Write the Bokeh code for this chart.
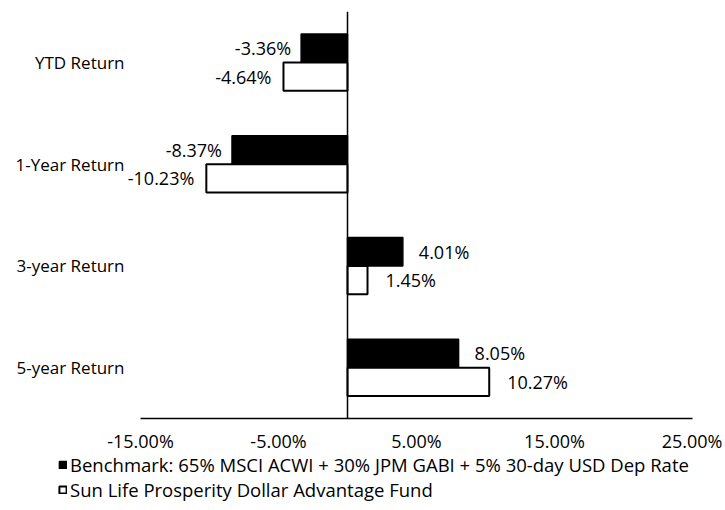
from bokeh.plotting import figure
from bokeh.layouts import column
from bokeh.models import ColumnDataSource, FactorRange, FixedTicker, Span, Legend, LegendItem, Range1d
from bokeh.transform import dodge
from bokeh.core.properties import value
from bokeh.embed import file_html
from bokeh.resources import INLINE

categories = ["YTD Return", "1-Year Return", "3-year Return", "5-year Return"]
benchmark = [-3.36, -8.37, 4.01, 8.05]
fund = [-4.64, -10.23, 1.45, 10.27]
tick_values = [-15, -5, 5, 15, 25]
tick_labels = ["-15.00%", "-5.00%", "5.00%", "15.00%", "25.00%"]
bench_name = "Benchmark: 65% MSCI ACWI + 30% JPM GABI + 5% 30-day USD Dep Rate"
fund_name = "Sun Life Prosperity Dollar Advantage Fund"

FONT = "Open Sans"
FS = "18px"
FS_CAT = "17px"
FS_LEG = "18.5px"
BENCH_STYLE = dict(fill_color="#000000", line_color="#000000", line_width=1.5)
FUND_STYLE = dict(fill_color="#ffffff", line_color="#000000", line_width=2)

# layout: axis from -15 at x=140 to 25 at x=692; frame starts a bit further left
AX_MIN, AX_MAX = -15, 25
FRAME_LEFT, AXIS_LEFT, FRAME_RIGHT = 110, 140, 692
PX_PER_UNIT = (FRAME_RIGHT - AXIS_LEFT) / (AX_MAX - AX_MIN)

def fmt(v):
    return f"{v:.2f}%"

src = ColumnDataSource(dict(
    cat=categories,
    bench=benchmark,
    fund=fund,
    bench_lbl=[fmt(v) for v in benchmark],
    fund_lbl=[fmt(v) for v in fund],
    bench_align=["right" if v < 0 else "left" for v in benchmark],
    fund_align=["right" if v < 0 else "left" for v in fund],
    bench_off=[-10 if v < 0 else 16 for v in benchmark],
    fund_off=[-12 if v < 0 else 18 for v in fund],
))

p = figure(width=722, height=455, output_backend="svg", toolbar_location=None,
           y_range=FactorRange(factors=list(reversed(categories))),
           x_range=Range1d(AX_MIN - (AXIS_LEFT - FRAME_LEFT) / PX_PER_UNIT, AX_MAX),
           min_border_left=FRAME_LEFT, min_border_right=722 - FRAME_RIGHT,
           min_border_top=11, min_border_bottom=35)

p.outline_line_color = None
p.xgrid.grid_line_color = None
p.ygrid.grid_line_color = None
p.background_fill_color = "white"

p.hbar(y=dodge("cat", 0.14, range=p.y_range), left=0, right="bench", height=0.28,
       source=src, **BENCH_STYLE)
p.hbar(y=dodge("cat", -0.14, range=p.y_range), left=0, right="fund", height=0.28,
       source=src, **FUND_STYLE)

p.text(x="bench", y=dodge("cat", 0.14, range=p.y_range), text="bench_lbl", source=src,
       text_align="bench_align", text_baseline="middle", x_offset="bench_off",
       text_font=value(FONT), text_font_size=FS, text_color="#000000")
p.text(x="fund", y=dodge("cat", -0.14, range=p.y_range), text="fund_lbl", source=src,
       text_align="fund_align", text_baseline="middle", x_offset="fund_off",
       text_font=value(FONT), text_font_size=FS, text_color="#000000")

p.add_layout(Span(location=0, dimension="height", line_color="#000000", line_width=1.5))

xa = p.xaxis[0]
xa.bounds = (AX_MIN, AX_MAX)
xa.ticker = FixedTicker(ticks=tick_values)
xa.major_label_overrides = {t: l for t, l in zip(tick_values, tick_labels)}
xa.major_tick_line_color = None
xa.minor_tick_line_color = None
xa.major_tick_out = 0
xa.minor_tick_out = 0
xa.axis_line_color = "#000000"
xa.axis_line_width = 1.5
xa.major_label_standoff = 10
xa.major_label_text_font = FONT
xa.major_label_text_font_size = FS
xa.major_label_text_color = "#000000"

ya = p.yaxis[0]
ya.axis_line_color = None
ya.major_tick_line_color = None
ya.minor_tick_line_color = None
ya.major_tick_out = 0
ya.minor_tick_out = 0
ya.major_label_standoff = -(AXIS_LEFT - FRAME_LEFT) + 16
ya.major_label_text_font = FONT
ya.major_label_text_font_size = FS_CAT
ya.major_label_text_color = "#000000"

# legend strip below the chart
p2 = figure(width=722, height=55, output_backend="svg", toolbar_location=None,
            x_axis_type=None, y_axis_type=None,
            y_range=FactorRange(factors=categories), x_range=Range1d(AX_MIN, AX_MAX),
            min_border_left=0, min_border_right=0, min_border_top=0, min_border_bottom=0)
if "frame_align" in p2.properties():
    p2.frame_align = False
p2.outline_line_color = None
p2.xgrid.grid_line_color = None
p2.ygrid.grid_line_color = None
lb = p2.hbar(y="cat", left=0, right="bench", height=0.5, source=src, visible=False, **BENCH_STYLE)
lf = p2.hbar(y="cat", left=0, right="fund", height=0.5, source=src, visible=False, **FUND_STYLE)

legend = Legend(items=[LegendItem(label=bench_name, renderers=[lb]),
                       LegendItem(label=fund_name, renderers=[lf])],
                location=(58, 8), orientation="vertical",
                border_line_color=None, background_fill_alpha=0,
                padding=0, margin=0, spacing=-2,
                glyph_width=9, glyph_height=9, label_standoff=3,
                label_height=22,
                label_text_font=FONT, label_text_font_size=FS_LEG, label_text_color="#000000")
p2.add_layout(legend, "center")

layout = column(p, p2, spacing=0)
open("out.html", "w").write(file_html(layout, INLINE))
